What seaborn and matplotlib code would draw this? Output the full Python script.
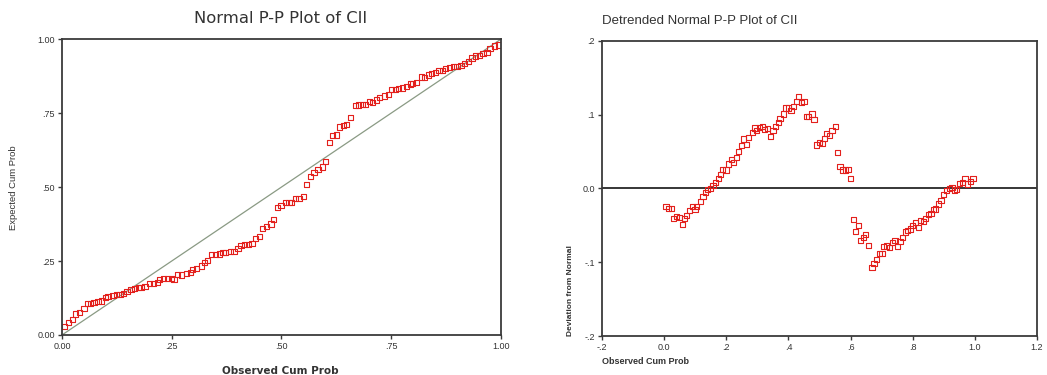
import numpy as np
import pandas as pd
import matplotlib
matplotlib.use('Agg')
import matplotlib.pyplot as plt
import seaborn as sns

# observed cumulative probability and its deviation from normal
observed = [
    0.006, 0.014, 0.024, 0.030, 0.039, 0.050, 0.058, 0.065, 0.073, 0.082,
    0.090, 0.099, 0.105, 0.116, 0.125, 0.132, 0.140, 0.148, 0.157, 0.165,
    0.174, 0.180, 0.189, 0.199, 0.208, 0.217, 0.223, 0.232, 0.240, 0.249,
    0.255, 0.264, 0.272, 0.283, 0.292, 0.298, 0.307, 0.317, 0.324, 0.332,
    0.341, 0.350, 0.358, 0.367, 0.373, 0.384, 0.392, 0.401, 0.408, 0.416,
    0.425, 0.433, 0.441, 0.450, 0.457, 0.465, 0.476, 0.482, 0.491, 0.499,
    0.510, 0.517, 0.523, 0.532, 0.540, 0.551, 0.557, 0.566, 0.574, 0.583,
    0.594, 0.600, 0.609, 0.617, 0.626, 0.632, 0.641, 0.649, 0.658, 0.669,
    0.675, 0.684, 0.692, 0.701, 0.707, 0.716, 0.724, 0.735, 0.743, 0.750,
    0.759, 0.767, 0.776, 0.784, 0.793, 0.799, 0.808, 0.819, 0.825, 0.834,
    0.842, 0.851, 0.859, 0.866, 0.874, 0.883, 0.891, 0.900, 0.909, 0.917,
    0.926, 0.934, 0.942, 0.951, 0.959, 0.968, 0.975, 0.986, 0.994,
]
deviation = [
    -0.024, -0.027, -0.027, -0.041, -0.038, -0.039, -0.049, -0.041, -0.037, -0.030,
    -0.025, -0.029, -0.024, -0.018, -0.011, -0.006, -0.001, 0.000, 0.004, 0.008,
    0.013, 0.019, 0.026, 0.025, 0.033, 0.039, 0.035, 0.042, 0.050, 0.058,
    0.067, 0.060, 0.069, 0.076, 0.082, 0.078, 0.083, 0.084, 0.080, 0.081,
    0.070, 0.078, 0.084, 0.089, 0.095, 0.101, 0.109, 0.109, 0.106, 0.111,
    0.118, 0.125, 0.116, 0.118, 0.097, 0.098, 0.101, 0.093, 0.059, 0.062,
    0.061, 0.068, 0.074, 0.072, 0.078, 0.084, 0.049, 0.030, 0.025, 0.025,
    0.026, 0.013, -0.042, -0.058, -0.050, -0.071, -0.067, -0.062, -0.077, -0.107,
    -0.102, -0.096, -0.088, -0.088, -0.079, -0.078, -0.080, -0.073, -0.071, -0.079,
    -0.072, -0.067, -0.059, -0.057, -0.055, -0.050, -0.046, -0.053, -0.044, -0.045,
    -0.041, -0.035, -0.034, -0.029, -0.028, -0.021, -0.016, -0.008, -0.003, 0.000,
    0.001, -0.002, -0.001, 0.007, 0.008, 0.014, 0.006, 0.009, 0.014,
]

pp_ticks = [0, 0.25, 0.5, 0.75, 1.0]
pp_labels = ['0.00', '.25', '.50', '.75', '1.00']
dt_xticks = [-0.2, 0.0, 0.2, 0.4, 0.6, 0.8, 1.0, 1.2]
dt_xlabels = ['-.2', '0.0', '.2', '.4', '.6', '.8', '1.0', '1.2']
dt_yticks = [-0.2, -0.1, 0.0, 0.1, 0.2]
dt_ylabels = ['-.2', '-.1', '0.0', '.1', '.2']

df = pd.DataFrame({'observed': observed, 'deviation': deviation})
df['expected'] = df['observed'] - df['deviation']

sns.set_style('white')
plt.rcParams['font.family'] = ['Liberation Sans', 'DejaVu Sans']

red = '#e3201c'
frame = '#3a3a3a'
txt = '#333333'

fig = plt.figure(figsize=(10.47, 3.75), dpi=100)
ax1 = fig.add_axes([0.0592, 0.1067, 0.4193, 0.789])
ax2 = fig.add_axes([0.575, 0.104, 0.4155, 0.787])

# Normal P-P plot
ax1.plot([0, 1], [0, 1], color='#8a9a84', lw=0.9, zorder=1)
sns.scatterplot(data=df, x='observed', y='expected', ax=ax1, marker='s', s=14,
                facecolor='none', edgecolor=red, linewidth=0.8, zorder=2)
ax1.set_xlim(0, 1)
ax1.set_ylim(0, 1)
ax1.set_xticks(pp_ticks, pp_labels)
ax1.set_yticks(pp_ticks, pp_labels)
ax1.set_xlabel('')
ax1.set_ylabel('')

# Detrended plot
ax2.axhline(0, color='black', lw=1.1, zorder=1)
sns.scatterplot(data=df, x='observed', y='deviation', ax=ax2, marker='s', s=14,
                facecolor='none', edgecolor=red, linewidth=0.8, zorder=2)
ax2.set_xlim(-0.2, 1.2)
ax2.set_ylim(-0.2, 0.2)
ax2.set_xticks(dt_xticks, dt_xlabels)
ax2.set_yticks(dt_yticks, dt_ylabels)
ax2.set_xlabel('')
ax2.set_ylabel('')

for ax in (ax1, ax2):
    for sp in ax.spines.values():
        sp.set_color(frame)
        sp.set_linewidth(1.3)
    ax.tick_params(axis='both', direction='out', length=3, width=1, color=frame,
                   labelsize=6.5, labelcolor=txt, pad=2, bottom=True, left=True)

fig.text(0.268, 0.950, 'Normal P-P Plot of CII', ha='center', va='center',
         fontsize=11.8, color=txt, family='DejaVu Sans')
fig.text(0.575, 0.945, 'Detrended Normal P-P Plot of CII', ha='left', va='center',
         fontsize=9.5, color=txt)

fig.text(0.268, 0.012, 'Observed Cum Prob', ha='center', va='center',
         fontsize=7.5, fontweight='bold', color=txt, family='DejaVu Sans')
fig.text(0.013, 0.5, 'Expected Cum Prob', ha='center', va='center', rotation=90,
         fontsize=6.8, color=txt)

fig.text(0.575, 0.035, 'Observed Cum Prob', ha='left', va='center',
         fontsize=6.5, fontweight='bold', color=txt)
fig.text(0.545, 0.104, 'Deviation from Normal', ha='center', va='bottom', rotation=90,
         fontsize=6, fontweight='bold', color=txt)

fig.savefig('out.png', dpi=100, facecolor='white')
